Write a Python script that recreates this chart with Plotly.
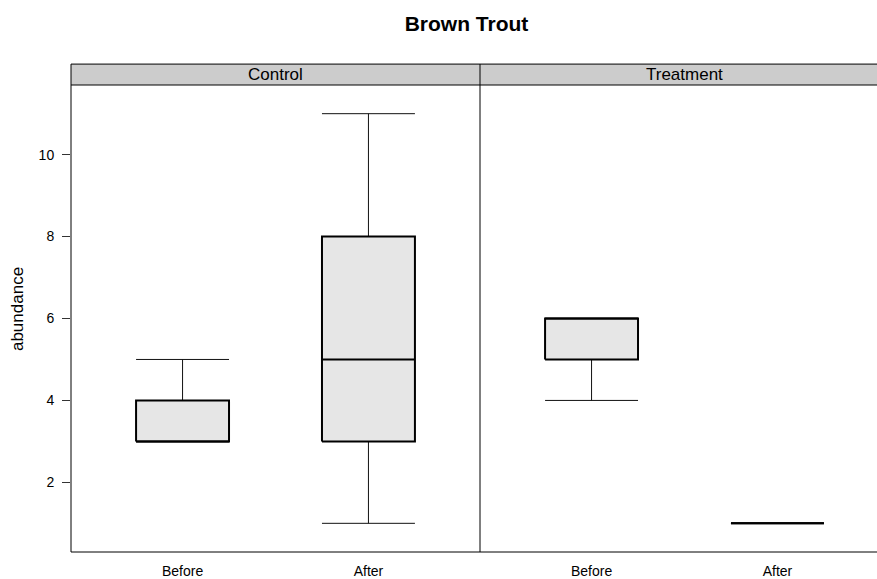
import plotly.graph_objects as go

# ---- data -------------------------------------------------------------
panels = ["Control", "Treatment"]
periods = ["Before", "After"]
positions = [1, 2]

# five-number summaries per panel, ordered as `periods`
control_min = [3, 1]
control_q1 = [3, 3]
control_median = [3, 5]
control_q3 = [4, 8]
control_max = [5, 11]

treatment_min = [4, 1]
treatment_q1 = [5, 1]
treatment_median = [6, 1]
treatment_q3 = [6, 1]
treatment_max = [6, 1]

y_ticks = [2, 4, 6, 8, 10]

stats = {
    "Control": (control_min, control_q1, control_median, control_q3, control_max),
    "Treatment": (treatment_min, treatment_q1, treatment_median, treatment_q3, treatment_max),
}

# ---- style ------------------------------------------------------------
FONT = "Liberation Sans, Arial, sans-serif"
BOX_FILL = "#e6e6e6"
STRIP_FILL = "#cccccc"
HALF = 0.25  # half box width in data units

W, H = 877, 579
L, T, B = 71, 85, 25
plot_w = W - L
plot_h = H - T - B
panel_w = 409
d = panel_w / plot_w
xr_left = [0.4, 2.6]
unit = panel_w / (xr_left[1] - xr_left[0])
xr_right = [0.4, 0.4 + (plot_w - panel_w) / unit]
yr = [0.3, 11.7]
strip_top = 1 + 21 / plot_h

fig = go.Figure()

for pi, panel in enumerate(panels):
    xa = "x" if pi == 0 else "x2"
    ya = "y" if pi == 0 else "y2"
    mn, q1, md, q3, mx = stats[panel]
    for j, per in enumerate(periods):
        p = positions[j]
        lo, hi = p - HALF, p + HALF
        # whiskers and caps
        fig.add_trace(go.Scatter(
            x=[p, p, None, p, p, None, lo, hi, None, lo, hi],
            y=[q3[j], mx[j], None, q1[j], mn[j], None, mx[j], mx[j], None, mn[j], mn[j]],
            mode="lines", line=dict(color="#111111", width=1),
            xaxis=xa, yaxis=ya, hoverinfo="skip", showlegend=False))
        # box
        fig.add_trace(go.Scatter(
            x=[lo, hi, hi, lo, lo],
            y=[q1[j], q1[j], q3[j], q3[j], q1[j]],
            mode="lines", fill="toself", fillcolor=BOX_FILL,
            line=dict(color="black", width=2),
            xaxis=xa, yaxis=ya, showlegend=False, name=f"{panel} {per}"))
        # median
        fig.add_trace(go.Scatter(
            x=[lo, hi], y=[md[j], md[j]], mode="lines",
            line=dict(color="black", width=2),
            xaxis=xa, yaxis=ya, hoverinfo="skip", showlegend=False))

axis_common = dict(showgrid=False, zeroline=False, showline=False)

fig.update_layout(
    width=W, height=H,
    margin=dict(l=L, r=0, t=T, b=B, pad=0),
    paper_bgcolor="white", plot_bgcolor="white",
    font=dict(family=FONT, color="black"),
    showlegend=False,
    title=dict(text="<b>Brown Trout</b>", font=dict(size=21, family=FONT),
               x=466.5 / W, xanchor="center", xref="container",
               y=1 - 24 / H, yanchor="middle", yref="container"),
    xaxis=dict(domain=[0, d], range=xr_left, tickvals=positions, ticktext=periods,
               ticks="outside", ticklen=0, tickcolor="rgba(0,0,0,0)",
               ticklabelstandoff=6, tickfont=dict(size=14), **axis_common),
    xaxis2=dict(domain=[d, 1], range=xr_right, tickvals=positions, ticktext=periods,
                ticks="outside", ticklen=0, tickcolor="rgba(0,0,0,0)",
                ticklabelstandoff=6, tickfont=dict(size=14), anchor="y2", **axis_common),
    yaxis=dict(range=yr, tickvals=y_ticks, ticks="outside", ticklen=8,
               tickcolor="#333333", tickwidth=1, ticklabelstandoff=5,
               tickfont=dict(size=14), **axis_common),
    yaxis2=dict(range=yr, matches="y", showticklabels=False, anchor="x2",
                **axis_common),
)

shapes = []
# strip backgrounds
shapes.append(dict(type="rect", xref="paper", yref="paper", x0=0, x1=d, y0=1, y1=strip_top,
                   fillcolor=STRIP_FILL, line=dict(width=0), layer="below"))
shapes.append(dict(type="rect", xref="paper", yref="paper", x0=d, x1=1, y0=1, y1=strip_top,
                   fillcolor=STRIP_FILL, line=dict(width=0), layer="below"))
line = dict(color="black", width=1)
for yy in (0, 1, strip_top):
    shapes.append(dict(type="line", xref="paper", yref="paper", x0=0, x1=1, y0=yy, y1=yy, line=line))
for xx in (0, d):
    shapes.append(dict(type="line", xref="paper", yref="paper", x0=xx, x1=xx, y0=0, y1=strip_top, line=line))
fig.update_layout(shapes=shapes)

# strip labels centred on each full panel (data centre of the panel range)
strip_mid = (xr_left[0] + xr_left[1]) / 2
for pi, panel in enumerate(panels):
    fig.add_annotation(text=panel, xref="x" if pi == 0 else "x2", yref="paper",
                       x=strip_mid, y=(1 + strip_top) / 2, showarrow=False,
                       xanchor="center", yanchor="middle",
                       font=dict(size=17, family=FONT, color="black"))

# y-axis title
fig.add_annotation(text="abundance", xref="paper", yref="paper",
                   x=(17 - L) / plot_w, y=(H - B - 310) / plot_h,
                   showarrow=False, textangle=-90, xanchor="center", yanchor="middle",
                   font=dict(size=17, family=FONT, color="black"))

fig.write_html("out.html")
